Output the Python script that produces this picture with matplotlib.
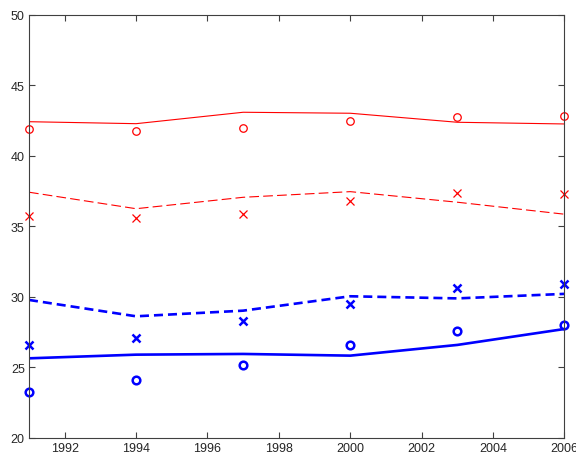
import numpy as np
import matplotlib
matplotlib.use("Agg")
import matplotlib.pyplot as plt

plt.rcParams['font.family'] = ['Liberation Sans', 'DejaVu Sans']
plt.rcParams['lines.scale_dashes'] = False

years = [1991, 1994, 1997, 2000, 2003, 2006]

# red group: fitted lines and observed points
red_fit_a = [42.43, 42.29, 43.10, 43.03, 42.39, 42.27]
red_obs_a = [41.90, 41.77, 41.99, 42.50, 42.77, 42.84]
red_fit_b = [37.43, 36.26, 37.07, 37.47, 36.72, 35.87]
red_obs_b = [35.74, 35.60, 35.87, 36.81, 37.35, 37.28]

# blue group
blue_fit_b = [29.79, 28.63, 29.03, 30.05, 29.90, 30.22]
blue_obs_b = [26.60, 27.11, 28.32, 29.53, 30.62, 30.92]
blue_fit_a = [25.65, 25.91, 25.96, 25.84, 26.60, 27.73]
blue_obs_a = [23.28, 24.11, 25.18, 26.60, 27.57, 28.01]

xticks = list(range(1992, 2007, 2))
yticks = list(range(20, 51, 5))

fig = plt.figure(figsize=(5.76, 4.56), dpi=100)
ax = fig.add_axes([0.0503, 0.0373, 0.9297, 0.9277])

ax.plot(years, red_fit_a, '-', color='#ff0000', lw=0.8)
ax.plot(years, red_obs_a, 'o', color='#ff0000', mfc='none', ms=5.4, mew=0.9,
        clip_on=False)
ax.plot(years, red_fit_b, '--', color='#ff0000', lw=0.8, dashes=(7.0, 3.0))
ax.plot(years, red_obs_b, 'x', color='#ff0000', ms=5.2, mew=0.9, clip_on=False)

ax.plot(years, blue_fit_b, '--', color='#0000ff', lw=1.9, dashes=(6.5, 3.6))
ax.plot(years, blue_obs_b, 'x', color='#0000ff', ms=5.5, mew=1.8, clip_on=False)
ax.plot(years, blue_fit_a, '-', color='#0000ff', lw=1.9)
ax.plot(years, blue_obs_a, 'o', color='#0000ff', mfc='none', ms=5.5, mew=1.8,
        clip_on=False)

ax.set_xlim(1991, 2006)
ax.set_ylim(20, 50)
ax.set_xticks(xticks)
ax.set_yticks(yticks)

for s in ax.spines.values():
    s.set_color('#404040')
    s.set_linewidth(0.8)
ax.tick_params(direction='in', length=4, width=0.8, colors='#404040',
               labelsize=9, top=True, right=True, pad=3)
for lab in ax.get_xticklabels() + ax.get_yticklabels():
    lab.set_color('#262626')

fig.savefig('out.png', dpi=100)
